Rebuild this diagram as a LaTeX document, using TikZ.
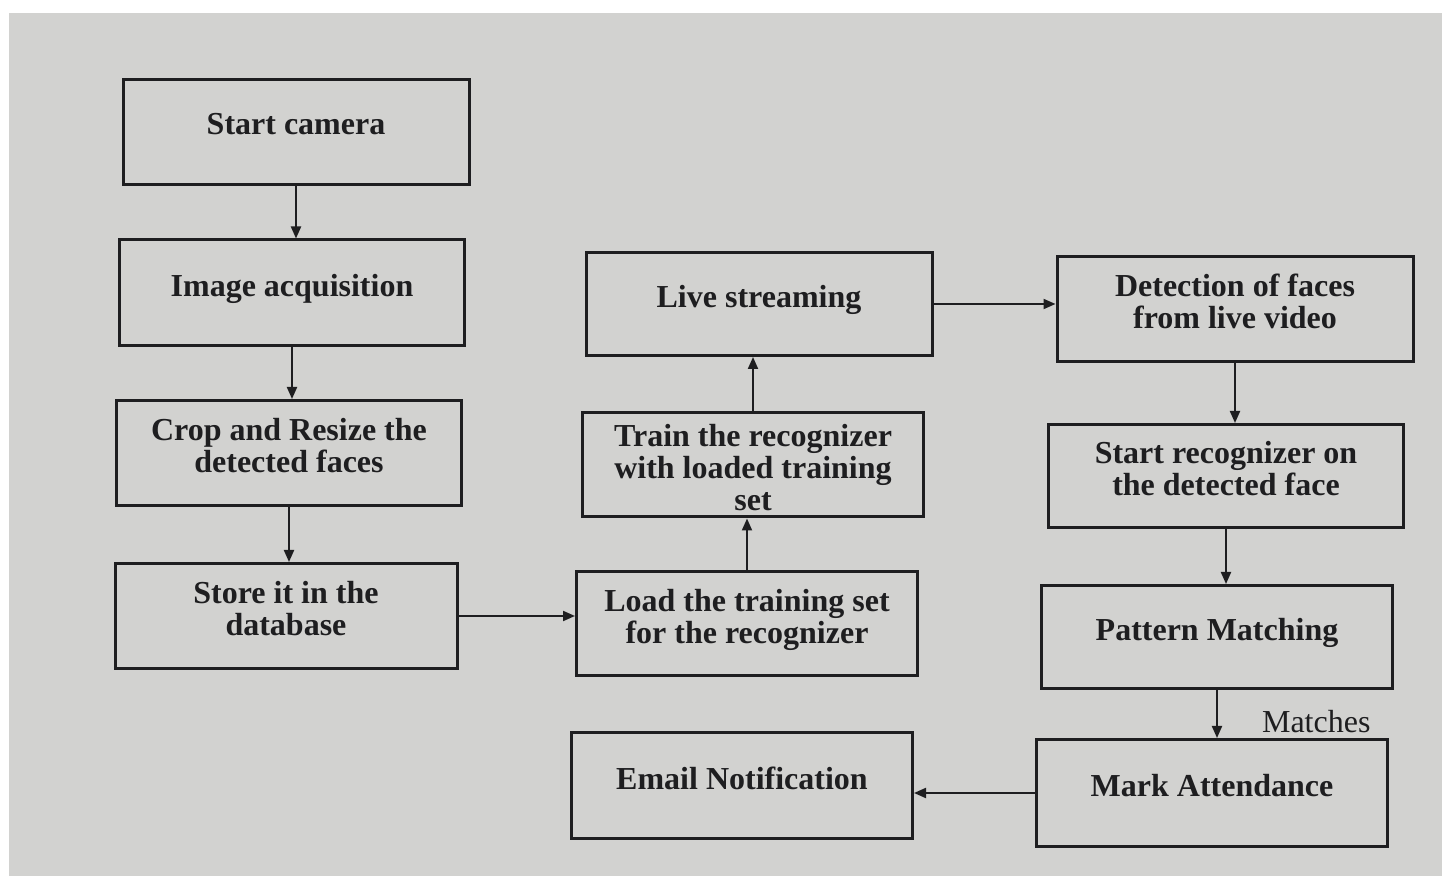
\documentclass[tikz,border=0pt]{standalone}
\usepackage{fontspec}
\setmainfont{Liberation Serif}
\usetikzlibrary{arrows.meta}
\definecolor{bgpaper}{RGB}{210,210,208}
\definecolor{ink}{RGB}{30,30,32}
\tikzset{
  stepbox/.style={draw=ink, line width=1.5pt, align=center, inner sep=2pt,
    text=ink, text depth=8pt, font=\bfseries\fontsize{16}{16}\selectfont},
  arr/.style={draw=ink, line width=1pt, -{Triangle[length=6pt,width=5pt]}},
  lbl/.style={text=ink, font=\fontsize{16}{16}\selectfont}
}
\begin{document}
\begin{tikzpicture}[x=0.5pt,y=-0.5pt]
\useasboundingbox (0,0) rectangle (1442,876);
\fill[white] (0,0) rectangle (1442,876);
\fill[bgpaper] (9,13) rectangle (1442,876);
% left column
\node[stepbox, minimum width=173pt, minimum height=52.5pt] (start) at (296,132) {Start camera};
\node[stepbox, minimum width=172.5pt, minimum height=53pt] (acq) at (292,293) {Image acquisition};
\node[stepbox, minimum width=172.5pt, minimum height=52.5pt] (crop) at (289,453) {Crop and Resize the\\detected faces};
\node[stepbox, minimum width=171pt, minimum height=52.5pt] (store) at (286,616) {Store it in the\\database};
% middle column
\node[stepbox, minimum width=170.5pt, minimum height=52pt] (load) at (747,624) {Load the training set\\for the recognizer};
\node[stepbox, inner sep=0pt, text height=46pt, text depth=0pt, minimum width=170.5pt, minimum height=52pt] (train) at (753,465) {Train the recognizer\\with loaded training\\set};
\node[stepbox, minimum width=173pt, minimum height=51.5pt] (live) at (759,304) {Live streaming};
\node[stepbox, minimum width=170.5pt, minimum height=53pt] (email) at (742,786) {Email Notification};
% right column
\node[stepbox, minimum width=178pt, minimum height=52.5pt] (det) at (1235,309) {Detection of faces\\from live video};
\node[stepbox, minimum width=177.5pt, minimum height=51.5pt] (rec) at (1226,476) {Start recognizer on\\the detected face};
\node[stepbox, minimum width=175.5pt, minimum height=51.5pt] (pat) at (1217,637) {Pattern Matching};
\node[stepbox, minimum width=175.5pt, minimum height=53.5pt] (mark) at (1212,793) {Mark Attendance};
% connectors
\draw[arr] (start.south) -- (start.south |- acq.north);
\draw[arr] (acq.south) -- (acq.south |- crop.north);
\draw[arr] (crop.south) -- (crop.south |- store.north);
\draw[arr] (store.east) -- (store.east -| load.west);
\draw[arr] (load.north) -- (load.north |- train.south);
\draw[arr] (train.north) -- (train.north |- live.south);
\draw[arr] (live.east) -- (live.east -| det.west);
\draw[arr] (det.south) -- (det.south |- rec.north);
\draw[arr] (rec.south) -- (rec.south |- pat.north);
\draw[arr] (pat.south) -- (pat.south |- mark.north) coordinate[pos=0.65] (mm);
\node[lbl, anchor=west] (matches) at ([xshift=19pt]mm) {Matches};
\draw[arr] (mark.west) -- (mark.west -| email.east);
\end{tikzpicture}
\end{document}
